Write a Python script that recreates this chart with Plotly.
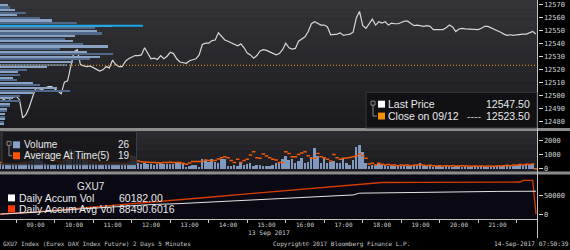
import plotly.graph_objects as go
import pandas as pd

# ---------------- data ----------------
times = pd.date_range("2017-09-13 08:05", "2017-09-13 22:00", freq="5min")

last_price = [
    12499.5, 12497, 12498.5, 12497.5, 12499, 12499.5, 12497, 12483, 12485.5, 12491,
    12498.5, 12505.5, 12505.5, 12505, 12506, 12507, 12507, 12505.5, 12503.5, 12501.5,
    12510.5, 12511.5, 12522.5, 12534, 12535.5, 12524, 12523, 12522.5, 12523, 12521.5,
    12520, 12519, 12520, 12522.5, 12521.5, 12527.5, 12524, 12522.5, 12522.5, 12526.5,
    12528.5, 12530, 12531, 12531, 12531.5, 12537, 12533, 12528.5, 12529, 12528,
    12531, 12528.5, 12530.5, 12533.5, 12532.5, 12528.5, 12526, 12525.5, 12525, 12527,
    12528, 12528.5, 12531.5, 12539.5, 12540.5, 12540.5, 12542.5, 12543, 12548.5, 12546,
    12543, 12542, 12541, 12539.5, 12538.5, 12540, 12537, 12533, 12531.5, 12529,
    12531, 12534.5, 12535.5, 12535, 12534, 12533, 12531.5, 12532.5, 12535.5, 12540.5,
    12537, 12536, 12536.5, 12542, 12544, 12545.5, 12549.5, 12555.5, 12557, 12555.5,
    12554.5, 12554.5, 12553, 12547, 12547, 12547.5, 12548.5, 12546.5, 12547, 12547.5,
    12549, 12560, 12565, 12554, 12552, 12555.5, 12559, 12554.5, 12557, 12556,
    12557, 12554.5, 12556, 12555.5, 12555.5, 12556.5, 12557.5, 12557.5, 12555.5, 12554,
    12554.5, 12554, 12553.5, 12554, 12553.5, 12551, 12551, 12551, 12551, 12552.5,
    12554.5, 12553, 12549.5, 12551.5, 12552, 12551.5, 12551.5, 12551.5, 12551, 12551,
    12552, 12553.5, 12553.5, 12552.5, 12551, 12550.5, 12549, 12547.5, 12546.5, 12547,
    12546.5, 12547, 12547.5, 12547.5, 12547.5, 12548.5, 12549.5, 12547.5,
]

volume = [
    380, 330, 350, 300, 340, 320, 360, 520, 450, 400,
    600, 900, 800, 550, 450, 260, 250, 280, 300, 420,
    650, 900, 1400, 1350, 1100, 700, 1250, 800, 500, 450,
    400, 350, 380, 330, 300, 350, 420, 380, 300, 320,
    450, 950, 900, 400, 380, 420, 350, 330, 300, 360, 420, 380, 320, 340, 380, 400,
    440, 440, 160, 210, 280, 280, 160, 670, 620, 510, 670,
    460,
    390, 670, 670, 210, 210, 280, 210, 390, 280, 350, 440, 210, 280, 280, 210, 210, 210, 280, 390,
    460, 690,
    900, 620, 670, 440, 580, 740, 440, 510, 850, 1430, 900, 440, 850, 390, 510, 580, 390, 440,
    740, 390, 280, 620, 1540, 1660, 1200, 390, 210, 280, 280,
    350, 300, 250, 230, 280, 210, 230, 210, 230, 180,
    210, 230, 280, 440, 210, 180, 210, 160, 180, 210,
    160, 180, 210, 160, 180, 180, 160, 180, 160, 160,
    180, 160, 180, 160, 160, 180, 160, 180, 210, 230,
    210, 250, 230, 280, 250, 280, 300, 280, 350, 26,
]

avg_at_time = [
    450, 400, 380, 350, 360, 340, 380, 420, 450, 500,
    800, 1300, 1400, 1200, 900, 700, 600, 550, 520, 500,
    600, 700, 800, 850, 800, 700, 650, 600, 550, 500,
    480, 460, 450, 440, 430, 420, 420, 410, 400, 400,
    500, 600, 650, 550, 500, 480, 460, 450, 440, 430, 420, 440, 450, 460, 450, 440,
    440, 390, 320, 410, 510, 510, 510, 510, 620, 580,
    580, 580, 690, 780, 850, 780, 580, 440, 670, 440,
    580, 670, 970, 1200, 780, 740, 1040, 900, 780, 670,
    620, 440, 440, 1200, 1080, 850, 850, 1010, 1100, 1200,
    920, 740, 740, 1080, 850, 780, 670, 550, 1010, 780,
    670, 740, 760, 800, 850, 920, 1040, 920, 740, 350,
    390, 280, 390,
    320, 280, 300, 250, 280, 230, 280, 250, 280, 230,
    250, 280, 300, 250, 230, 250, 230, 210, 230, 210,
    230, 210, 230, 210, 210, 230, 210, 210, 180, 210,
    180, 210, 180, 210, 180, 180, 210, 210, 230, 250,
    230, 280, 250, 300, 280, 320, 300, 350, 19,
]

assert len(last_price) == len(times) == len(volume) == len(avg_at_time), (
    len(last_price), len(volume), len(avg_at_time))

prev_close = 12523.5

# volume-at-price profile (left side of the price panel)
profile_price = [12570, 12568, 12566, 12564, 12562, 12560, 12558, 12556, 12554, 12552,
                 12550, 12548, 12546, 12544, 12542, 12540, 12538, 12536, 12534, 12532,
                 12530, 12528, 12526, 12524, 12522, 12520, 12518, 12516, 12514, 12512,
                 12510, 12508, 12506, 12504, 12502, 12500, 12498, 12496, 12494, 12492,
                 12490, 12488, 12486, 12484, 12482, 12480, 12478]
profile_volume = [80, 100, 150, 260, 170, 400, 520, 770, 1120, 950,
                  970, 1020, 750, 650, 730, 830, 1080, 600, 870, 1130,
                  1000, 900, 730, 670, 470, 270, 180, 200, 130, 170,
                  330, 400, 570, 700, 330, 200, 130, 200, 100, 100,
                  70, 70, 50, 50, 50, 40, 40]
poc_price = 12554
poc_volume = 1430

accum_times = ["08:05", "09:00", "10:00", "11:00", "12:00", "12:45", "13:35", "14:30",
               "15:20", "16:15", "17:05", "17:15", "17:25", "18:00", "19:00", "19:40",
               "21:00", "22:00"]
accum_vol = [380, 5200, 12800, 19700, 25300, 27900, 32200, 36300,
             40600, 44900, 49000, 50500, 55100, 55900, 57600, 59100,
             59700, 60182]

accum_avg_times = ["08:05", "08:30", "09:00", "10:00", "11:00", "12:00", "12:45", "13:30",
                   "14:30", "15:30", "16:30", "17:30", "18:00", "19:00", "20:00", "21:00",
                   "21:35", "21:40", "21:55", "22:00"]
accum_avg = [700, 2500, 6000, 15000, 23000, 31000, 37000, 44500,
             53500, 62000, 71000, 79500, 83000, 83400, 83700, 84000,
             84200, 88490, 88490, 0]

hour_labels = ["09:00", "10:00", "11:00", "12:00", "13:00", "14:00", "15:00",
               "16:00", "17:00", "18:00", "19:00", "20:00", "21:00"]
half_hours = ["08:30", "09:30", "10:30", "11:30", "12:30", "13:30", "14:30", "15:30",
              "16:30", "17:30", "18:30", "19:30", "20:30", "21:30"]

DAY = "2017-09-13 "
x_range = [DAY + "08:04:36", DAY + "22:02:24"]

# ---------------- figure ----------------
W, H = 570, 250


def px(x):
    return x / W


def py(y):
    return 1 - y / H


fig = go.Figure()

prof_colors = ["#8aa3c5" if k % 2 == 0 else "#506889" for k in range(len(profile_price))]
fig.add_trace(go.Bar(x=profile_volume, y=profile_price, orientation="h",
                     xaxis="x4", yaxis="y2", width=1.6,
                     marker=dict(color=prof_colors, line=dict(width=0)),
                     hoverinfo="skip"))
fig.add_trace(go.Scatter(x=[0, poc_volume], y=[poc_price, poc_price], xaxis="x4", yaxis="y2",
                         mode="lines", line=dict(color="#1aa7e4", width=2), hoverinfo="skip"))
fig.add_trace(go.Scatter(x=times, y=last_price, xaxis="x2", yaxis="y2", mode="lines",
                         line=dict(color="#d6d6d6", width=1.2)))

fig.add_trace(go.Bar(x=times, y=volume, xaxis="x3", yaxis="y3",
                     width=5 * 60 * 1000 * 0.62,
                     marker=dict(color="#8199be", line=dict(width=0))))
fig.add_trace(go.Scatter(x=times, y=avg_at_time, xaxis="x3", yaxis="y3", mode="markers",
                         marker=dict(symbol="line-ew", size=2.5,
                                     line=dict(color="#f05a0a", width=1.5))))

fig.add_trace(go.Scatter(x=[DAY + t for t in accum_avg_times], y=accum_avg, xaxis="x", yaxis="y",
                         mode="lines", line=dict(color="#d63c00", width=1.3)))
fig.add_trace(go.Scatter(x=[DAY + t for t in accum_times], y=accum_vol, xaxis="x", yaxis="y",
                         mode="lines", line=dict(color="#e4e4e4", width=1)))

xdom = [0, 537.5 / W]
tick_font = dict(family="DejaVu Sans Mono", size=7, color="#d2d2d2")
common_y = dict(side="right", ticks="outside", ticklen=4, tickcolor="#d8d8d8", tickwidth=1,
                showgrid=False, zeroline=False, showline=False, tickformat="d",
                tickfont=tick_font, fixedrange=True)

fig.update_layout(
    width=W, height=H, margin=dict(l=0, r=0, t=0, b=0),
    paper_bgcolor="#000000", plot_bgcolor="rgba(0,0,0,0)",
    showlegend=False, bargap=0,
    xaxis=dict(domain=xdom, anchor="y", type="date", range=x_range,
               tickvals=[DAY + h for h in hour_labels], ticktext=hour_labels,
               ticks="", showline=True, linecolor="#c4c4c4", linewidth=1,
               showgrid=False, zeroline=False,
               tickfont=dict(family="DejaVu Sans Mono", size=6, color="#d0d0d0"),
               minor=dict(tickvals=[DAY + h for h in half_hours], ticks="outside",
                          ticklen=3, tickcolor="#c4c4c4", showgrid=False)),
    xaxis2=dict(domain=xdom, anchor="y2", matches="x", type="date", showticklabels=False,
                showgrid=False, zeroline=False, ticks=""),
    xaxis3=dict(domain=xdom, anchor="y3", matches="x", type="date", showticklabels=False,
                showgrid=False, zeroline=False, ticks=""),
    xaxis4=dict(overlaying="x2", anchor="y2", range=[0, 5375], visible=False),
    yaxis=dict(domain=[py(220.5), py(176)], anchor="x", range=[-11655, 103613],
               tickvals=[0, 50000], **common_y),
    yaxis2=dict(domain=[py(129), py(0)], anchor="x2", range=[12475.2, 12573.8],
                dtick=10, tick0=12480, **common_y),
    yaxis3=dict(domain=[py(173), py(132)], anchor="x3", range=[-186, 2641],
                tickvals=[0, 1000, 2000], **common_y),
)

shapes = []


def rect(x0, y0, x1, y1, fill, line=None, lw=0, layer="above"):
    shapes.append(dict(type="rect", xref="paper", yref="paper",
                       x0=px(x0), x1=px(x1), y0=py(y1), y1=py(y0),
                       fillcolor=fill, line=dict(width=lw, color=line or fill), layer=layer))


def seg(x0, y0, x1, y1, color, w=1):
    shapes.append(dict(type="line", xref="paper", yref="paper",
                       x0=px(x0), x1=px(x1), y0=py(y0), y1=py(y1),
                       line=dict(color=color, width=w), layer="above"))


def mix(c0, c1, t):
    a = [int(c0[i:i + 2], 16) for i in (1, 3, 5)]
    b = [int(c1[i:i + 2], 16) for i in (1, 3, 5)]
    return "#" + "".join("%02x" % round(a[k] + (b[k] - a[k]) * t) for k in range(3))


# panel backgrounds (vertical gradients)
n = 14
for k in range(n):
    y0 = 129 * k / n
    y1 = 129 * (k + 1) / n
    rect(0, y0, 537.5, y1 + 0.5, mix("#343337", "#1b1a1f", k / (n - 1)), layer="below")
n2 = 6
for k in range(n2):
    y0 = 132 + 41 * k / n2
    y1 = 132 + 41 * (k + 1) / n2
    rect(0, y0, 537.5, y1 + 0.5, mix("#2b2a2e", "#1c1b20", k / (n2 - 1)), layer="below")
rect(0, 176, 537.5, 220.5, "#0a0812", layer="below")

# separators
rect(0, 129, W, 132, "#8c8c8c", layer="below")
rect(0, 173, W, 176, "#8c8c8c", layer="below")

# right axis line
seg(537.5, 0, 537.5, 240, "#c4c4c4", 1)

# close reference line
shapes.append(dict(type="line", xref="x2 domain", yref="y2", x0=0, x1=1,
                   y0=prev_close, y1=prev_close,
                   line=dict(color="#f0a020", width=1, dash="1px,2px"), layer="above"))

# price legend box
rect(366, 93, 537, 129, "rgba(16,16,20,0.92)", "#38383d", 1)
rect(378, 101.5, 385, 108.5, "#ffffff")
rect(378, 113.5, 385, 120.5, "#f39200")
rect(371, 102, 375, 106, "rgba(0,0,0,0)", "#8a8a8a", 1)
seg(373, 106, 373, 117, "#8a8a8a")
seg(373, 117, 377, 117, "#8a8a8a")

# volume legend box
rect(2, 132.5, 136.5, 166, "rgba(22,22,26,0.82)", "#3c3c40", 1)
rect(13, 142.5, 20, 149.5, "#8aa2c8")
rect(13, 153.5, 20, 160.5, "#ff5500")
rect(7, 142.5, 11, 146.5, "rgba(0,0,0,0)", "#8a8a8a", 1)
seg(9, 146.5, 9, 157, "#8a8a8a")
seg(9, 157, 12, 157, "#8a8a8a")

# accum legend squares
rect(8, 196, 15, 203, "#ffffff")
rect(8, 207, 15, 214, "#ff3a00")

fig.update_layout(shapes=shapes)

ann = []


def txt(x, y, s, anchor="left", size=10.5, color="#e8e8e8", family="Liberation Sans"):
    ann.append(dict(x=px(x), y=py(y), xref="paper", yref="paper", text=s, showarrow=False,
                    xanchor=anchor, yanchor="middle", borderpad=0,
                    font=dict(family=family, size=size, color=color)))


txt(387, 105, "Last Price")
txt(531, 105, "12547.50", "right")
txt(387, 117, "Close on 09/12")
txt(473.5, 117, "----", "center", color="#c8c8c8")
txt(531, 117, "12523.50", "right")

txt(23, 145.7, "Volume", size=10)
txt(131, 145.7, "26", "right", size=10)
txt(23, 156.7, "Average At Time(5)", size=10)
txt(131, 156.7, "19", "right", size=10)

txt(90.5, 188.3, "GXU7", "center", size=10)
txt(18, 199.5, "Daily Accum Vol")
txt(118, 199.5, "60182.00")
txt(18, 210.7, "Daily Accum Avg Vol")
txt(118, 210.7, "88490.6016")

mono = "DejaVu Sans Mono"
txt(269, 234.8, "13 Sep 2017", "center", size=6.3, color="#d0d0d0", family=mono)
txt(1.5, 245.5, "GXU7 Index (Eurex DAX Index Future) 2 Days 5 Minutes", size=6,
    color="#c8c8c8", family=mono)
txt(272, 245.5, "Copyright\u00a9 2017 Bloomberg Finance L.P.", size=6, color="#c8c8c8", family=mono)
txt(569.5, 245.5, "14-Sep-2017 07:50:39", "right", size=6.2, color="#c8c8c8", family=mono)

fig.update_layout(annotations=ann)

fig.write_html("out.html")
